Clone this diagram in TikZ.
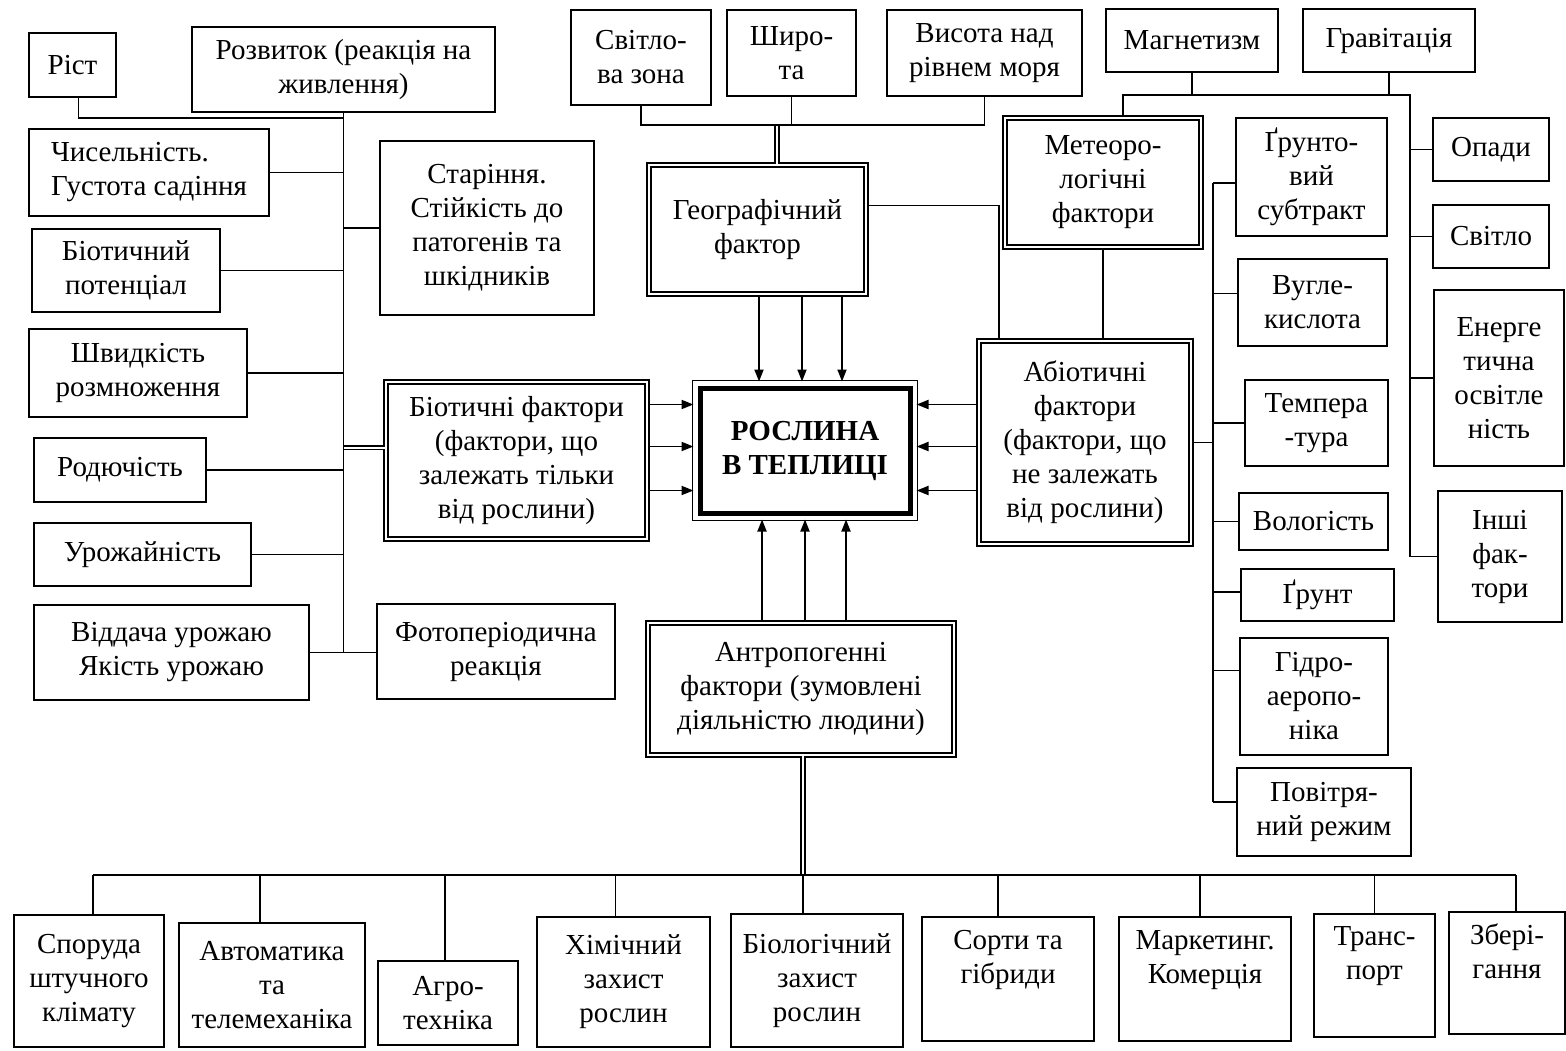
\documentclass[tikz,border=0pt]{standalone}
\usepackage{fontspec}
\setmainfont{Liberation Serif}
\usepackage{tikz}
\usetikzlibrary{arrows.meta}
\newcommand{\boxfont}{\fontsize{29}{34}\selectfont}

\begin{document}
\begin{tikzpicture}[x=1pt, y=-1pt,
    box/.style={draw, line width=1.8pt, align=center, inner sep=2pt, font=\boxfont},
    dblbox/.style={box, double, double distance=2.8pt, line width=1.7pt},
    plantbox/.style={box, line width=5pt, font=\boxfont\bfseries},
    sz/.style 2 args={minimum width=#1pt, minimum height=#2pt},
    link/.style={line width=1.8pt},
    dbl/.style={double, double distance=2pt, line width=1.6pt},
    arr/.style={line width=1.8pt, -{Triangle[length=12pt, width=9pt]}}
  ]
  \fill[white] (0,0) rectangle (1566,1051);
  \useasboundingbox (0,0) rectangle (1566,1051);

  % central box
  \node[plantbox, sz={210}{125}] (plant) at (805,450.5) {РОСЛИНА\\В ТЕПЛИЦІ};
  \draw[link] ([shift={(-5,-5)}]plant.north west) rectangle ([shift={(5,5)}]plant.south east);

  % main factor groups
  \node[dblbox, sz={261}{157}] (bio) at (516.5,460.5) {Біотичні фактори\\(фактори, що\\залежать тільки\\від рослини)};
  \node[dblbox, sz={217}{129}] (geo) at (757.5,229.5) {Географічний\\фактор};
  \node[dblbox, sz={196}{129}] (meteo) at (1103,182.5) {Метеоро-\\логічні\\фактори};
  \node[dblbox, sz={212}{203}] (abio) at (1085,442.5) {Абіотичні\\фактори\\(фактори, що\\не залежать\\від рослини)};
  \node[dblbox, sz={306}{132}] (anthro) at (801,689) {Антропогенні\\фактори (зумовлені\\діяльністю людини)};

  % biotic items
  \node[box, sz={240}{87}, align=left] (chys) at (149,172.5) {Чисельність.\\Густота садіння};
  \foreach \n/\bx/\by/\bw/\bh/\txt in {
      rist/72.5/65/87/64/{Ріст},
      rozv/343.5/69.5/303/85/{Розвиток (реакція на\\живлення)},
      biopot/126/270.5/188/83/{Біотичний\\потенціал},
      star/487/228/214/174/{Старіння.\\Стійкість до\\патогенів та\\шкідників},
      shvyd/138/373/218/88/{Швидкість\\розмноження},
      rod/120/470/172/64/{Родючість},
      urozh/142.5/554.5/217/63/{Урожайність},
      vid/171.5/652.5/275/95/{Віддача урожаю\\Якість урожаю},
      foto/496/651.5/238/95/{Фотоперіодична\\реакція}}
    \node[box, sz={\bw}{\bh}] (\n) at (\bx,\by) {\txt};

  % geographic and meteorological items
  \foreach \n/\bx/\by/\bw/\bh/\txt in {
      svit/641/57.5/140/95/{Світло-\\ва зона},
      shyr/791.5/53/129/86/{Широ-\\та},
      vys/984.5/53/195/86/{Висота над\\рівнем моря},
      magn/1192/40.5/172/63/{Магнетизм},
      grav/1389/40.5/172/63/{Гравітація},
      opady/1491/149.5/116/63/{Опади},
      svitlo/1491/236.5/116/63/{Світло},
      energ/1499/378/130/176/{Енерге\\тична\\освітле\\ність},
      inshi/1500/556.5/124/131/{Інші\\фак-\\тори}}
    \node[box, sz={\bw}{\bh}] (\n) at (\bx,\by) {\txt};

  % abiotic items
  \foreach \n/\bx/\by/\bw/\bh/\txt in {
      grs/1311.5/177/151/118/{Ґрунто-\\вий\\субтракт},
      vug/1312.5/302.5/149/87/{Вугле-\\кислота},
      temp/1316.5/423/143/86/{Темпера\\-тура},
      vol/1313.5/521.5/149/57/{Вологість},
      grunt/1317.5/595/153/52/{Ґрунт},
      gidro/1314/696.5/148/117/{Гідро-\\аеропо-\\ніка},
      pov/1324/812/174/88/{Повітря-\\ний режим}}
    \node[box, sz={\bw}{\bh}] (\n) at (\bx,\by) {\txt};

  % anthropogenic items
  \foreach \n/\bx/\by/\bw/\bh/\txt in {
      spor/89/981/150/132/{Споруда\\штучного\\клімату},
      avto/272/985/186/124/{Автоматика\\та\\телемеханіка},
      agro/448/1003/140/84/{Агро-\\техніка},
      khim/623.5/982/173/130/{Хімічний\\захист\\рослин},
      biol/817/980.5/172/133/{Біологічний\\захист\\рослин},
      sorty/1008/979/172/124/{Сорти та\\гібриди\\\strut},
      mark/1205/979/172/124/{Маркетинг.\\Комерція\\\strut},
      trans/1374.5/975.5/121/123/{Транс-\\порт\\\strut},
      zber/1507/973/116/122/{Збері-\\гання\\\strut}}
    \node[box, sz={\bw}{\bh}] (\n) at (\bx,\by) {\txt};

  % double connectors
  \coordinate (gj) at (777,125);
  \coordinate (bj) at (803,875);
  \draw[dbl] (gj) -- (gj |- geo.north);
  \draw[dbl] (bj |- anthro.south) -- (bj);
  \draw[dbl] ([yshift=13pt]bio.west) -- ([yshift=13pt]bio.west -| rozv.south);

  % biotic tree
  \draw[link] (rozv.south) -- (rozv.south |- vid.east);
  \draw[link] ([xshift=6pt]rist.south) |- ([yshift=-5pt]rozv.south);
  \foreach \n in {chys, biopot, shvyd, rod, urozh}
    \draw[link] (\n.east) -- (\n.east -| rozv.south);
  \draw[link] (star.west) -- (star.west -| rozv.south);
  \draw[link] (vid.east) -- (vid.east -| foto.west);

  % geographic tree
  \draw[link] (svit.south) |- (gj) -| (vys.south);
  \draw[link] (shyr.south) -- (shyr.south |- gj);
  \draw[link] ([yshift=24pt]geo.east) -| ([xshift=21pt]abio.north west);

  % meteorological tree
  \coordinate (mj) at (1123,95);
  \coordinate (rj) at (1410,95);
  \draw[link] (mj |- meteo.north) -- (mj) -- (rj) -- (rj |- inshi.west);
  \draw[link] (magn.south) -- (magn.south |- mj);
  \draw[link] (grav.south) -- (grav.south |- mj);
  \foreach \n in {opady, svitlo, energ, inshi}
    \draw[link] (\n.west) -- (\n.west -| rj);
  \draw[link] (meteo.south) -- (meteo.south |- abio.north);

  % abiotic tree
  \coordinate (cb) at (1213,0);
  \draw[link] ([yshift=-6pt]grs.west -| cb) -- ([yshift=10pt]pov.west -| cb);
  \draw[link] (abio.east) -- (abio.east -| cb);
  \foreach \n/\s in {grs/-6, vug/9, temp/0, vol/0, grunt/3, gidro/26, pov/10}
    \draw[link] ([yshift=\s pt]\n.west) -- ([yshift=\s pt]\n.west -| cb);

  % anthropogenic tree
  \draw[link] ([xshift=4pt]spor.north |- bj) -- ([xshift=9pt]zber.north |- bj);
  \foreach \n/\s in {spor/4, avto/-12, agro/-3, khim/-8, sorty/-10, mark/-5, trans/0, zber/9}
    \draw[link] ([xshift=\s pt]\n.north) -- ([xshift=\s pt]\n.north |- bj);
  \draw[link] (bj) -- (bj |- biol.north);

  % arrows into the plant
  \foreach \d in {-46,-3,37}
    \draw[arr] ([xshift=\d pt]plant.north |- geo.south) -- ([xshift=\d pt, yshift=4pt]plant.north);
  \foreach \d in {-43,0,41}
    \draw[arr] ([xshift=\d pt]plant.south |- anthro.north) -- ([xshift=\d pt, yshift=-4pt]plant.south);
  \foreach \d in {46,4,-40} {
    \draw[arr] ([yshift=\d pt]plant.west -| bio.east) -- ([yshift=\d pt, xshift=-4pt]plant.west);
    \draw[arr] ([yshift=\d pt]plant.east -| abio.west) -- ([yshift=\d pt, xshift=4pt]plant.east);
  }
\end{tikzpicture}
\end{document}
